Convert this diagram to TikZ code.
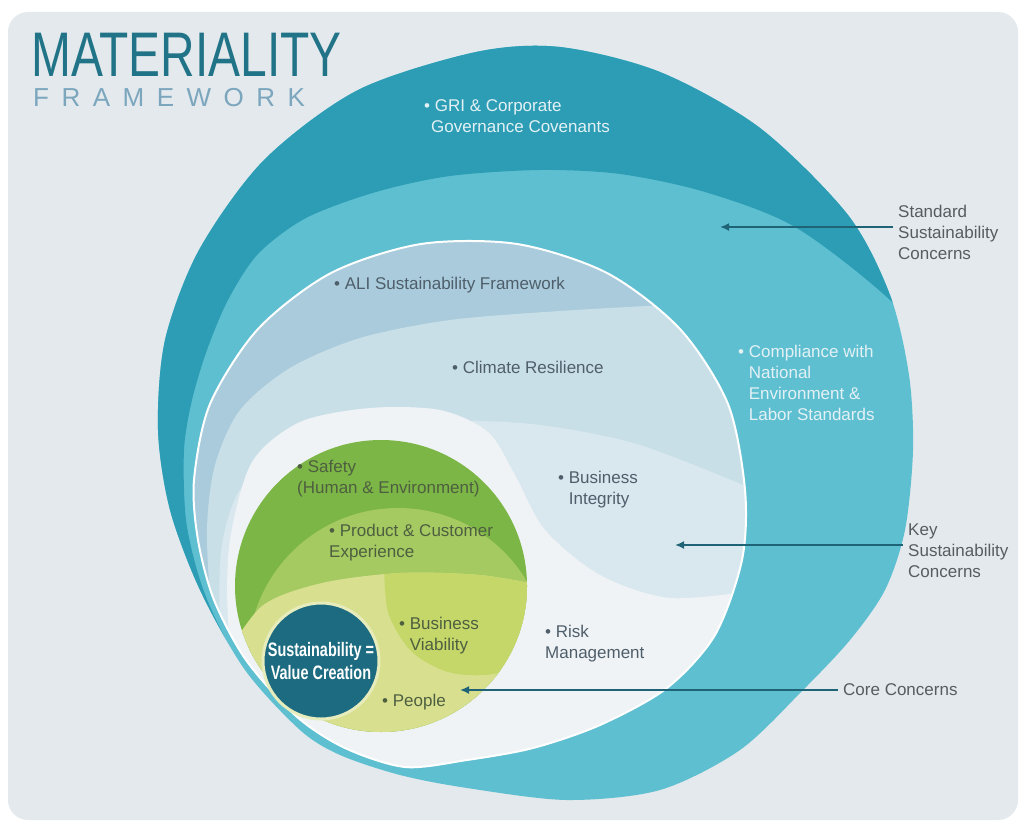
\documentclass[tikz,border=0pt]{standalone}
\usepackage{fontspec}
\setmainfont{Liberation Sans}
\newfontfamily\spaced[LetterSpace=48]{Liberation Sans}
\usepackage{tikz}
\usetikzlibrary{arrows.meta}

\definecolor{panel}{HTML}{E3E9EC}
\definecolor{tealdark}{HTML}{2C9DB5}
\definecolor{teallight}{HTML}{5EBFD1}
\definecolor{alibg}{HTML}{A9CBDB}
\definecolor{climbg}{HTML}{C9DFE8}
\definecolor{intbg}{HTML}{D9E8EE}
\definecolor{corebg}{HTML}{EFF3F5}
\definecolor{greendark}{HTML}{7CB646}
\definecolor{greenmid}{HTML}{A5CA62}
\definecolor{greenlight}{HTML}{D8E08F}
\definecolor{viable}{HTML}{C4D768}
\definecolor{hub}{HTML}{1D6B80}
\definecolor{rim}{HTML}{E6ECBC}
\definecolor{titlecol}{HTML}{217387}
\definecolor{subtitle}{HTML}{7BA6BE}
\definecolor{labelgray}{HTML}{575C61}
\definecolor{innertext}{HTML}{4F5E6B}
\definecolor{greentext}{HTML}{4E5F40}
\definecolor{gritext}{HTML}{E3F1F5}
\definecolor{arrowcol}{HTML}{1E6376}

\begin{document}
\begin{tikzpicture}[x=1pt,y=-1pt,
		item/.style={anchor=west,align=left,inner sep=0pt,font=\fontsize{17}{21}\selectfont},
		sidenote/.style={item,inner xsep=5pt,text=labelgray},
		pointer/.style={draw=arrowcol,line width=2.6pt,-{Latex[length=9pt,width=8pt]}}]
	\useasboundingbox (0,0) rectangle (1030,824);
	\fill[white] (0,0) rectangle (1030,824);
	\fill[panel,rounded corners=20pt] (8,12) rectangle (1018,820);

	\def\outerline{plot[smooth cycle] coordinates {(300,730) (245,670) (200,590) (170,510) (158,430) (165,340) (199,250) (264,160) (358,90) (476,52) (560,47) (660,72) (760,128) (848,215) (890,295) (909,375) (913,450) (905,530) (885,590) (850,640) (803,690) (740,750) (660,790) (567,800) (467,788) (400,775) (340,755)}}
	\def\innerline{plot[smooth cycle] coordinates {(405,767) (467,760) (533,748) (600,725) (667,688) (715,635) (742,560) (745,490) (728,404) (680,329) (607,273) (517,244) (421,244) (331,273) (258,329) (210,404) (194,480) (198,540) (214,600) (246,660) (296,716) (345,748)}}

	\fill[teallight] \outerline;
	\begin{scope}
		\clip \outerline;
		\fill[tealdark] plot[smooth] coordinates {(272,722) (222,632) (200,580) (186,520) (184,450) (192,400) (207,350) (228,300) (258,254) (306,218) (376,192) (450,176) (540,170) (620,174) (705,192) (795,227) (890,300) (960,380)} -- (1030,380) -- (1030,0) -- (0,0) -- (0,824) -- cycle;
	\end{scope}

	\fill[alibg] \innerline;
	\begin{scope}
		\clip \innerline;
		\fill[climbg] plot[smooth] coordinates {(225,720) (212,620) (207,530) (215,465) (240,410) (290,368) (360,338) (450,320) (560,311) (665,305) (760,300)} -- (800,300) -- (800,824) -- (225,824) -- cycle;
		\fill[intbg] plot[smooth] coordinates {(232,720) (220,620) (222,545) (240,490) (285,452) (360,430) (450,421) (540,425) (640,445) (760,492)} -- (800,492) -- (800,824) -- (232,824) -- cycle;
		\fill[corebg] plot[smooth] coordinates {(240,720) (228,620) (230,540) (252,462) (300,422) (370,408) (440,410) (488,432) (515,475) (545,530) (600,575) (670,598) (760,590)} -- (800,590) -- (800,824) -- (240,824) -- cycle;
	\end{scope}
	\draw[white,line width=2pt] \innerline;

	\fill[greendark] (381,586) circle (146pt);
	\begin{scope}
		\clip (381,586) circle (146pt);
		\fill[greenmid] (398,658) circle (150pt);
		\clip plot[smooth] coordinates {(222,662) (262,606) (322,583) (400,573) (480,575) (545,586)} -- (545,760) -- (222,760) -- cycle;
		\fill[greenlight] (222,560) rectangle (545,760);
		\fill[viable] plot[smooth] coordinates {(384,560) (388,612) (412,652) (452,673) (502,672) (548,640)} -- (548,560) -- cycle;
	\end{scope}

	\node[circle,fill=hub,draw=rim,line width=3pt,minimum size=116pt,inner sep=0pt,text=white,align=center,font=\fontsize{19.5}{23}\selectfont\bfseries] (hub) at (321,661) {\scalebox{0.74}[1]{Sustainability =}\\\scalebox{0.74}[1]{Value Creation}};

	\node[anchor=base west,inner sep=0pt,text depth=0pt,text=titlecol] (title) at (31,77) {\scalebox{0.76}[1]{\fontsize{63}{63}\selectfont MATERIALITY}};
	\node[anchor=base west,inner sep=0pt,text height=19pt,text depth=0pt,text=subtitle] (subtitle) at (33,107) {\fontsize{26}{26}\selectfont\spaced FRAMEWORK};

	\node[item,text=gritext] (gri) at (424,116) {\textbullet\ GRI \& Corporate\\\hspace{7pt}Governance Covenants};
	\node[item,text=innertext] (ali) at (334,285) {\textbullet\ ALI Sustainability Framework};
	\node[item,text=innertext] (climate) at (452,367) {\textbullet\ Climate Resilience};
	\node[item,text=gritext] (compliance) at (738,383) {\textbullet\ Compliance with\\\hphantom{\textbullet\ }National\\\hphantom{\textbullet\ }Environment \&\\\hphantom{\textbullet\ }Labor Standards};
	\node[item,text=innertext] (integrity) at (558,490) {\textbullet\ Business\\\hphantom{\textbullet\ }Integrity};
	\node[item,text=greentext] (safety) at (297,479) {\textbullet\ Safety\\(Human \& Environment)};
	\node[item,text=greentext] (product) at (329,543) {\textbullet\ Product \& Customer\\Experience};
	\node[item,text=greentext] (viability) at (399,636) {\textbullet\ Business\\\hphantom{\textbullet\ }Viability};
	\node[item,text=innertext] (risk) at (545,644) {\textbullet\ Risk\\Management};
	\node[item,text=greentext] (people) at (382,702) {\textbullet\ People};

	\node[sidenote] (standard) at (893,232) {Standard\\Sustainability\\Concerns};
	\node[sidenote] (key) at (903,551) {Key\\Sustainability\\Concerns};
	\node[sidenote] (core) at (838,690) {Core Concerns};

	\coordinate (stdtip) at (720,227);
	\coordinate (keytip) at (675,545);
	\coordinate (coretip) at (460,690);
	\draw[pointer] (standard.west |- stdtip) -- (stdtip);
	\draw[pointer] (key.west |- keytip) -- (keytip);
	\draw[pointer] (core.west) -- (coretip);
\end{tikzpicture}
\end{document}
